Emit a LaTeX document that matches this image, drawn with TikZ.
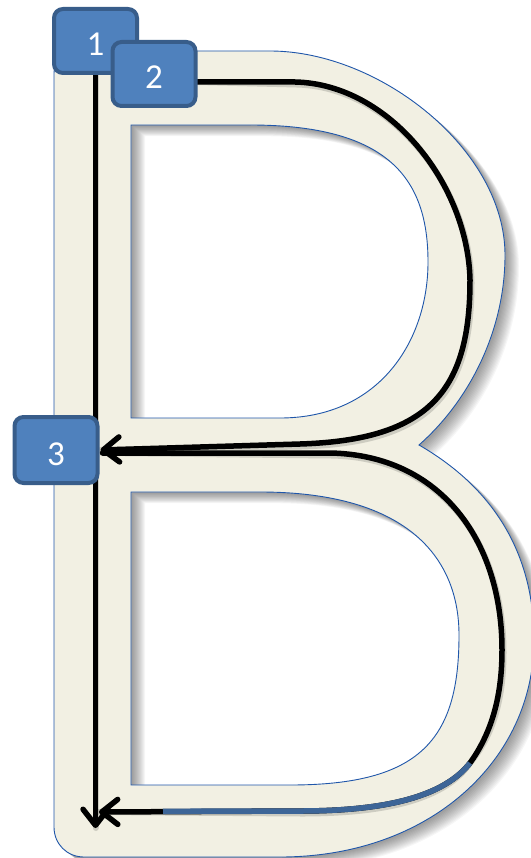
\documentclass[tikz,border=0pt]{standalone}
\usepackage{fontspec}
\setmainfont{Carlito}
\usetikzlibrary{arrows.meta}
\definecolor{bfill}{HTML}{F2F0E3}
\definecolor{bline}{HTML}{1F56AA}
\definecolor{boxfill}{HTML}{4F81BD}
\definecolor{boxline}{HTML}{385D8A}
\definecolor{pathblue}{HTML}{3D6597}
\pgfdeclarelayer{background}
\pgfsetlayers{background,main}
\begin{document}
\begin{tikzpicture}[x=1pt,y=-1pt,
  numbox/.style={draw=boxline, fill=boxfill, line width=4pt, rounded corners=9pt,
    minimum width=83pt, minimum height=64pt, text=white,
    font=\fontsize{35}{40}\selectfont, text height=30pt, text depth=0pt, inner sep=0pt},
  route/.style={line width=5.5pt, line cap=round, line join=round},
  tipped/.style={-{Straight Barb[length=16pt,width=25pt,round]}},
  routeshadow/.style={line width=6pt, draw=black, opacity=0.15, line cap=round, shift={(1.5,2.5)}}]
\useasboundingbox (0,0) rectangle (530,858);

\def\outerB{(54,73) .. controls (54,60) and (63,51) .. (76,51) -- (270,51)
  .. controls (380,51) and (505,150) .. (505,255)
  .. controls (505,330) and (470,400) .. (419,445)
  .. controls (480,480) and (534,540) .. (534,640)
  .. controls (534,760) and (430,857) .. (280,857) -- (84,857)
  .. controls (67,857) and (54,844) .. (54,827) -- cycle}
\def\upperH{(131,125) -- (250,125) .. controls (390,125) and (428,180) .. (428,262)
  .. controls (428,340) and (380,418) .. (280,418) -- (131,418) -- cycle}
\def\lowerH{(131,492) -- (260,492) .. controls (410,492) and (459,560) .. (459,635)
  .. controls (459,740) and (420,785) .. (290,785) -- (131,785) -- cycle}

% numbered boxes
\node[numbox] (n1) at (95.5,41) {1};
\node[numbox] (n2) at (154,74) {2};
\node[numbox, minimum height=66pt] (n3) at (56,450) {3};

\coordinate (end1) at (95.5,828);
\coordinate (end3) at (99,812);
\coordinate (start2) at ([yshift=-8pt]n2.east);
\coordinate (start3) at ([xshift=3pt,yshift=-3pt]n3.east);
\coordinate (blueA) at (470,763);
\coordinate (blueB) at (163,811.3);

\def\pathOne{(n1.south) -- (end1)}
\def\pathTwo{(start2) -- (295,82) .. controls (390,84) and (468,185) .. (470,280)
  .. controls (470,390) and (430,440) .. (300,444) -- ([xshift=1pt]n3.east)}
\def\pathThree{(start3) -- (330,453) .. controls (440,455) and (502,540) .. (502,650)
  .. controls (502,700) and (490,735) .. (blueA)
  .. controls (445,795) and (390,811) .. (300,811) -- (end3)}

\begin{pgfonlayer}{background}
  % drop shadow of the letter
  \foreach \d in {2,...,14} {
    \fill[black, opacity=0.035, even odd rule, shift={(\d,0.8*\d)}] \outerB \upperH \lowerH;
  }
  \fill[bfill, even odd rule] \outerB \upperH \lowerH;
  \draw[bline, line width=0.9pt] \outerB \upperH \lowerH;
  % route shadows
  \draw[routeshadow] \pathOne;
  \draw[routeshadow] \pathTwo;
  \draw[routeshadow] \pathThree;
  % routes
  \draw[route, tipped] \pathOne;
  \draw[route, tipped] \pathTwo;
  \draw[route, tipped] \pathThree;
  \draw[route, pathblue, line cap=butt] (blueA) .. controls (445,795) and (390,811) .. (300,811) -- (blueB);
\end{pgfonlayer}
\end{tikzpicture}
\end{document}
